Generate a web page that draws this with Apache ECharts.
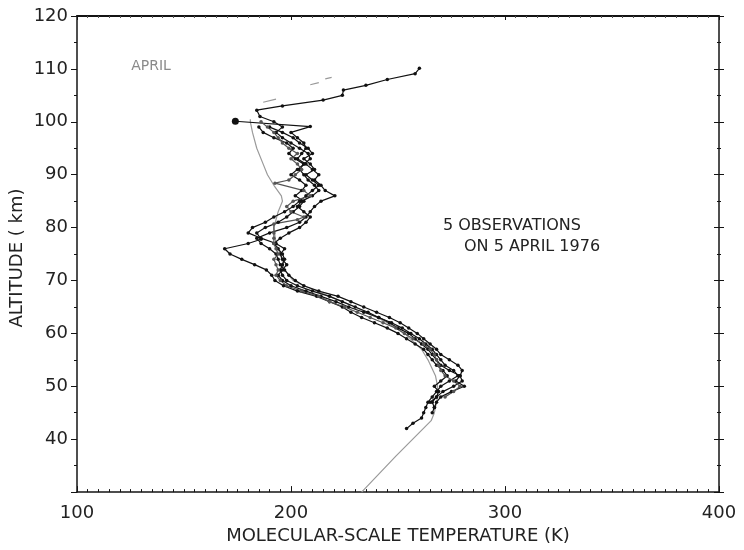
<!DOCTYPE html>
<html>
<head>
<meta charset="utf-8">
<script src="https://cdn.jsdelivr.net/npm/echarts@6/dist/echarts.min.js"></script>
<style>
  html, body { margin: 0; padding: 0; background: #fff; }
  #chart { width: 744px; height: 550px; }
</style>
</head>
<body>
<div id="chart"></div>
<script>
// Temperature axis ticks (K) and altitude ticks (km)
const tempTicks = [100, 200, 300, 400];
const altTicks = [40, 50, 60, 70, 80, 90, 100, 110, 120];

// Observation 1: rises to 110 km
const obs1Alt = [42, 43, 44, 45, 46, 47, 48, 49, 50, 51,
  52, 53, 54, 55, 56, 57, 58, 59, 60, 61,
  62, 63, 64, 65, 66, 67, 68, 69, 70, 71,
  72, 73, 74, 75, 76, 77, 78, 79, 80, 81,
  82, 83, 84, 85, 86, 87, 88, 89, 90, 91,
  92, 93, 94, 95, 96, 97, 98, 99, 100, 101,
  102.2, 103, 104.1, 105, 106, 106.9, 108, 109.1, 110.1];
const obs1Temp = [254, 257, 261, 262, 263, 264, 266, 268, 270, 274,
  278, 276, 272, 270, 268, 266, 263, 260, 256, 252,
  247, 241, 236, 230, 224, 218, 210, 203, 198, 196,
  195, 196, 197, 196, 194, 192, 195, 199, 204, 207,
  209, 206, 203, 205, 210, 213, 211, 208, 206, 204,
  206, 209, 208, 204, 200, 196, 193, 196, 192, 185.5,
  184, 196, 215, 224, 224.5, 235, 245, 258, 260];

// Observation 2: starts at 100 km
const obs2Alt = [100.1, 99.1, 98, 97, 96, 95, 94, 93, 92, 91,
  90, 89, 88, 87, 86, 85, 84, 83, 82, 81,
  80, 79, 78, 77, 76, 75, 74, 73, 72, 71,
  70, 69, 68, 67, 66, 65, 64, 63, 62, 61,
  60, 59, 58, 57, 56, 55, 54, 53, 52, 51,
  50, 49, 48, 47, 46];
const obs2Temp = [174, 209, 200, 203, 206, 207, 205, 203, 207, 210,
  213, 211, 214, 216, 220.5, 214, 211, 209, 207, 204,
  198, 190, 184, 186, 190, 193, 194, 195, 197, 199,
  202, 206, 213, 222, 228, 234, 240, 246, 251, 255,
  259, 262, 265, 268, 270, 274, 278, 280, 279, 277,
  281, 275, 270, 268, 267];

// Observation 3: cold layer near 76 km
const obs3Alt = [45, 46, 47, 48, 49, 50, 51, 52, 53, 54,
  55, 56, 57, 58, 59, 60, 61, 62, 63, 64,
  65, 66, 67, 68, 69, 70, 71, 72, 73, 74,
  75, 76, 77, 77.8, 79, 80, 81, 82, 83, 84,
  85, 86, 87, 88, 89, 90, 91, 92, 93, 94,
  95, 96, 97, 98, 99];
const obs3Temp = [266, 267, 266, 268, 269, 267, 270, 273, 271, 268,
  266, 264, 262, 258, 254, 250, 245, 239, 233, 228,
  224, 218, 212, 203, 196.5, 192.5, 191, 188.5, 183, 177,
  171.5, 169, 180, 186, 184, 188, 194, 198, 201, 204,
  206, 202, 205, 207, 204, 200, 203, 206, 202, 199,
  201, 198, 192, 187, 185];

// Observation 4
const obs4Alt = [47, 48, 49, 50, 51, 52, 53, 54, 55, 56,
  57, 58, 59, 60, 61, 62, 63, 64, 65, 66,
  67, 68, 69, 70, 71, 72, 73, 74, 75, 76,
  77, 78, 79, 80, 81, 82, 83, 84, 85, 86,
  87, 88, 89, 90, 91, 92, 93, 94, 95, 96,
  97, 98, 99];
const obs4Temp = [265, 268, 271, 276, 280, 279, 274, 270, 268, 266,
  264, 261, 258, 255, 250, 246, 241, 234, 227, 221,
  214, 207, 200, 196, 194, 196, 198, 196, 195, 197,
  193, 186, 180, 182, 188, 192, 197, 201, 204, 207,
  210, 213, 210, 207, 211, 209, 206, 210, 208, 204,
  201, 196, 190];

// Observation 5 (lighter trace)
const obs5Alt = [48, 49, 50, 51, 52, 53, 54, 55, 56, 57,
  58, 59, 60, 61, 62, 63, 64, 65, 66, 67,
  68, 69, 70, 71, 72, 73, 74, 75, 76, 77,
  78, 79, 80.7, 81.5, 82, 83, 84, 85, 86, 87,
  88.4, 89, 90, 91, 92, 93, 94, 95, 96, 97,
  98, 99, 100];
const obs5Temp = [272, 276, 279, 276, 272, 270, 269, 268, 267, 265,
  262, 257, 253, 249, 243, 237, 231, 225, 218, 213,
  205, 198, 195, 193, 194, 193, 192, 194, 193, 192,
  192, 192, 192, 203, 206, 200, 198, 201, 209, 206,
  192.5, 199, 202, 205, 203, 200, 203, 199, 196, 194,
  192, 189, 186];

// Reference mean profile
const refAlt = [30, 36.8, 43.5, 45, 48, 50, 52, 55, 57, 60,
  62, 65, 67, 69, 70, 72, 75, 77, 80, 83,
  85, 86, 88, 90, 92, 95, 98, 100, 100.5];
const refTemp = [233, 249, 265.5, 267, 268.5, 268.5, 267.5, 264, 261, 253,
  245, 230, 218, 206, 201, 197, 195, 193, 192, 194,
  196, 195.5, 192, 189, 187, 184, 182, 181, 181];

// Faint fragments above 100 km
const fragAlt = [103.7, 104.3, null, 107, 107.4, null, 108.1, 108.4];
const fragTemp = [187, 193, null, 209, 213, null, 216, 219];

function pairs(t, a) {
  return t.map((v, i) => (v === null || a[i] === null) ? '-' : [v, a[i]]);
}

const FONT = 'DejaVu Sans';
const INK = '#141414';

function obsSeries(name, t, a, color, bigFirst) {
  return {
    name: name,
    type: 'line',
    data: pairs(t, a),
    xAxisIndex: 0,
    yAxisIndex: 0,
    symbol: 'circle',
    symbolSize: bigFirst ? (v, p) => (p.dataIndex === 0 ? 7 : 3.5) : 3.5,
    itemStyle: { color: color },
    lineStyle: { color: color, width: 1.2 },
    clip: true,
    z: 3
  };
}

const chart = echarts.init(document.getElementById('chart'), null, { renderer: 'canvas' });

chart.setOption({
  animation: false,
  backgroundColor: '#fff',
  grid: { left: 77, right: 25, top: 16, bottom: 57 },
  xAxis: [
    {
      type: 'value', min: 100, max: 400, interval: 100, position: 'bottom',
      axisLine: { lineStyle: { color: INK, width: 1.5 } },
      axisTick: { inside: true, length: 6, lineStyle: { color: INK, width: 1 } },
      minorTick: { show: true, splitNumber: 20, length: 3, lineStyle: { color: INK, width: 1 } },
      splitLine: { show: false },
      axisLabel: {
        fontFamily: FONT, fontSize: 18, color: '#222', margin: 12,
        formatter: v => tempTicks.includes(v) ? String(v) : ''
      },
      name: 'MOLECULAR-SCALE TEMPERATURE (K)',
      nameLocation: 'middle', nameGap: 32,
      nameTextStyle: { fontFamily: FONT, fontSize: 18, color: '#222' }
    },
    {
      type: 'value', min: 100, max: 400, interval: 100, position: 'top',
      axisLine: { lineStyle: { color: INK, width: 2 } },
      axisTick: { inside: true, length: 4, lineStyle: { color: INK } },
      minorTick: { show: true, splitNumber: 20, length: 2, lineStyle: { color: '#555' } },
      splitLine: { show: false },
      axisLabel: { show: false }
    }
  ],
  yAxis: [
    {
      type: 'value', min: 30, max: 120, interval: 10, position: 'left',
      axisLine: { lineStyle: { color: INK, width: 1.5 } },
      axisTick: { inside: false, length: 6, lineStyle: { color: INK, width: 1 } },
      minorTick: { show: true, splitNumber: 2, length: 3, lineStyle: { color: INK } },
      splitLine: { show: false },
      axisLabel: {
        fontFamily: FONT, fontSize: 18, color: '#222', margin: 9,
        formatter: v => altTicks.includes(v) ? String(v) : ''
      }
    },
    {
      type: 'value', min: 30, max: 120, interval: 10, position: 'right',
      axisLine: { lineStyle: { color: INK, width: 1.5 } },
      axisTick: { inside: true, length: 5, lineStyle: { color: INK } },
      minorTick: { show: true, splitNumber: 2, length: 2, lineStyle: { color: INK } },
      splitLine: { show: false },
      axisLabel: { show: false }
    },
    {
      type: 'value', min: 30, max: 120, interval: 10, position: 'right',
      axisLine: { show: false },
      axisTick: { inside: false, length: 5, lineStyle: { color: INK } },
      minorTick: { show: true, splitNumber: 2, length: 2, lineStyle: { color: INK } },
      splitLine: { show: false },
      axisLabel: { show: false }
    }
  ],
  graphic: [
    {
      type: 'text', x: 17, y: 258, rotation: Math.PI / 2,
      style: {
        text: 'ALTITUDE ( km)', fill: '#222',
        font: '18px "DejaVu Sans"', align: 'center', verticalAlign: 'middle'
      }
    },
    {
      type: 'text', x: 151, y: 66,
      style: {
        text: 'APRIL', fill: '#8a8a8a',
        font: '14px "DejaVu Sans"', align: 'center', verticalAlign: 'middle'
      }
    },
    {
      type: 'text', x: 443, y: 226,
      style: {
        text: '5 OBSERVATIONS', fill: '#222',
        font: '16px "DejaVu Sans"', align: 'left', verticalAlign: 'middle'
      }
    },
    {
      type: 'text', x: 464, y: 246.5,
      style: {
        text: 'ON 5 APRIL 1976', fill: '#222',
        font: '16px "DejaVu Sans"', align: 'left', verticalAlign: 'middle'
      }
    }
  ],
  series: [
    {
      name: 'Reference', type: 'line', data: pairs(refTemp, refAlt),
      symbol: 'none', lineStyle: { color: '#9a9a9a', width: 1.2 }, z: 2
    },
    {
      name: 'Fragments', type: 'line', data: pairs(fragTemp, fragAlt),
      symbol: 'none', connectNulls: false, lineStyle: { color: '#9a9a9a', width: 1.2 }, z: 2
    },
    obsSeries('Obs 1', obs1Temp, obs1Alt, '#111', false),
    obsSeries('Obs 2', obs2Temp, obs2Alt, '#111', true),
    obsSeries('Obs 3', obs3Temp, obs3Alt, '#111', false),
    obsSeries('Obs 4', obs4Temp, obs4Alt, '#111', false),
    obsSeries('Obs 5', obs5Temp, obs5Alt, '#555', false)
  ]
});
</script>
</body>
</html>
